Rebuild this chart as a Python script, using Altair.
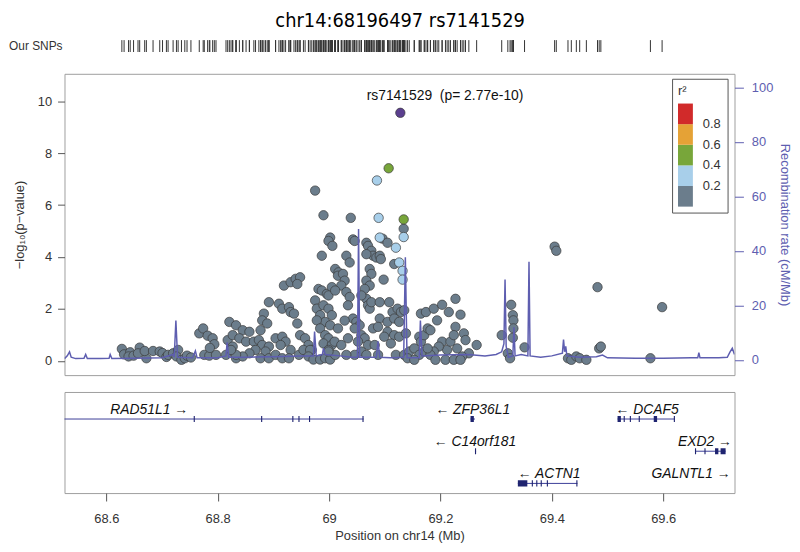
import altair as alt
import pandas as pd

# ---------------- data ----------------
# SNPs with r2 < 0.2 (grey): position (Mb) and -log10(p)
grey_pos = [68.628, 68.632, 68.643, 68.640, 68.649, 68.660, 68.657, 68.672, 68.669, 68.684,
            68.696, 68.701, 68.708, 68.711, 68.720, 68.729, 68.726, 68.735, 68.741, 68.745,
            68.752, 68.767, 68.774, 68.782, 68.791, 68.794, 68.776, 68.785, 68.797, 68.786,
            68.818, 68.827, 68.815, 68.833,
            68.975, 68.990, 69.002, 68.999, 69.006, 68.987, 69.011, 69.017, 68.919, 68.931,
            68.940, 68.948, 68.943, 68.981, 68.987, 68.996, 68.975, 68.978, 68.984, 68.990,
            68.999, 69.005, 68.993, 69.002, 68.892, 68.910, 68.916, 68.928, 68.931, 68.937,
            68.883, 68.880, 68.889, 68.877, 68.943, 68.948, 68.957, 68.963, 68.969, 68.904,
            68.916, 68.922, 68.913, 68.821, 68.833, 68.845, 68.857, 68.827, 68.839, 68.851,
            68.865, 68.874, 68.880, 68.892, 68.886, 68.868, 68.857, 68.845, 68.833, 68.824,
            68.877, 68.892, 68.904, 68.916, 68.931, 68.928, 68.946, 68.954, 68.966, 68.963,
            68.972, 68.984, 68.993, 69.002, 68.978, 68.984, 68.993, 68.999, 68.990, 69.005,
            69.010, 68.999,
            69.039, 69.134, 69.096, 69.105, 69.098, 69.117, 69.043, 69.046, 69.067, 69.070,
            69.076, 69.079, 69.067, 69.085, 69.091, 69.093, 69.031, 69.037, 69.073, 69.076,
            69.067, 69.073, 69.016, 69.025, 69.028, 69.022, 69.005, 69.031, 69.037, 69.034,
            68.999, 69.011, 69.064, 69.067, 69.070, 69.073, 69.058, 69.076, 69.091, 69.108,
            69.091, 69.105, 69.114, 69.123, 69.129, 69.135, 69.117, 69.126, 69.105, 69.117,
            69.126, 69.138, 69.043, 69.049, 69.055, 69.046, 69.058, 69.064, 69.052, 69.070,
            69.058, 69.046, 69.067, 69.082, 69.088, 69.011, 68.999, 69.022, 69.031, 69.034,
            69.079, 69.088, 69.099, 69.111, 69.120, 69.135, 69.016, 69.028,
            69.165, 69.174, 69.162, 69.144, 69.153, 69.162, 69.171, 69.165, 69.141, 69.153,
            69.171,
            69.188, 69.203, 69.215, 69.236, 69.194, 69.177, 69.182, 69.227, 69.242, 69.245,
            69.265, 69.251, 69.239, 69.230, 69.212, 69.203, 69.197, 69.188, 69.182, 69.177,
            69.191, 69.209, 69.224, 69.236, 69.218, 69.224, 69.227,
            69.310, 69.327, 69.330, 69.331, 69.331, 69.330, 69.321, 69.325, 69.351,
            69.405, 69.408, 69.482, 69.598, 69.485, 69.488, 69.429, 69.435, 69.444, 69.450,
            69.462, 69.577]
grey_logp = [0.46, 0.25, 0.33, 0.17, 0.20, 0.51, 0.29, 0.10, 0.38, 0.38,
             0.36, 0.30, 0.15, 0.23, 0.29, 0.42, 0.17, 0.04, 0.10, 0.20,
             0.13, 1.06, 1.25, 0.97, 0.87, 0.64, 0.23, 0.20, 0.23, 0.50,
             0.80, 0.55, 0.23, 0.10,
             6.56, 5.61, 4.75, 4.62, 4.43, 4.05, 3.54, 3.41, 2.90, 3.03,
             3.16, 3.22, 2.96, 2.77, 2.71, 2.58, 2.33, 2.01, 1.76, 2.14,
             2.01, 1.76, 1.50, 1.37, 2.26, 2.20, 2.01, 2.07, 1.88, 1.82,
             1.82, 1.56, 1.44, 1.18, 1.44, 0.99, 0.87, 0.61, 0.42, 0.87,
             0.93, 0.74, 0.61, 1.50, 1.37, 1.18, 1.12, 0.99, 0.87, 0.74,
             0.74, 0.80, 0.61, 0.55, 0.36, 0.42, 0.29, 0.17, 0.23, 0.42,
             0.10, 0.10, 0.23, 0.10, 0.42, 0.10, 0.23, 0.42, 0.42, 0.17,
             0.05, 0.05, 0.10, 0.05, 1.56, 1.25, 0.99, 0.87, 0.67, 0.61,
             0.74, 0.42,
             5.51, 5.09, 4.71, 4.55, 3.13, 3.73, 4.68, 4.62, 4.55, 4.43,
             4.24, 4.05, 4.11, 3.98, 4.05, 3.92, 4.05, 3.79, 3.54, 3.35,
             3.09, 2.90, 3.28, 3.35, 3.09, 2.90, 2.84, 2.65, 2.46, 2.14,
             2.52, 2.71, 2.77, 2.39, 2.14, 2.01, 2.52, 2.26, 2.26, 2.26,
             1.63, 1.50, 1.88, 2.01, 1.88, 1.95, 1.63, 1.50, 1.12, 0.99,
             0.93, 1.06, 1.63, 1.50, 1.37, 1.25, 0.99, 0.87, 0.74, 0.61,
             0.36, 0.23, 0.23, 0.61, 0.23, 0.23, 0.36, 0.61, 0.23, 0.87,
             1.25, 1.31, 0.93, 0.67, 0.23, 0.23, 1.25, 1.55,
             1.82, 1.88, 0.93, 0.36, 0.48, 0.23, 0.36, 0.74, 0.10, 0.04,
             0.99,
             2.01, 2.16, 1.88, 1.78, 1.56, 1.25, 1.18, 1.31, 1.06, 0.80,
             0.61, 0.29, 0.17, 0.48, 0.42, 0.74, 0.55, 0.36, 0.23, 0.48,
             0.04, 0.04, 0.04, 0.04, 0.74, 0.99, 2.39,
             0.99, 2.16, 1.76, 1.56, 1.25, 0.89, 0.29, 0.10, 0.52,
             4.40, 4.24, 2.84, 2.07, 0.48, 0.55, 0.10, 0.04, 0.17, 0.10,
             0.04, 0.10]

# SNPs with 0.2 <= r2 < 0.4 (light blue)
ltblue_pos = [69.086, 69.089, 69.134, 69.091, 69.120, 69.126, 69.132, 69.132]
ltblue_logp = [6.95, 5.51, 4.77, 4.75, 4.36, 3.79, 3.47, 3.13]

# SNPs with 0.4 <= r2 < 0.6 (green)
green_pos = [69.107, 69.134]
green_logp = [7.42, 5.45]

# representative r2 of each group
r2_grey, r2_ltblue, r2_green = 0.1, 0.3, 0.5

# lead SNP
lead_pos = [69.128]
lead_logp = [9.557]
lead_label = ["rs7141529\u00a0\u00a0(p= 2.77e-10)"]

# recombination rate (cM/Mb)
recomb_pos = [68.525, 68.530, 68.534, 68.537, 68.545, 68.560, 68.563, 68.566, 68.590, 68.605,
              68.607, 68.610, 68.650, 68.700, 68.720, 68.722, 68.725, 68.728, 68.755, 68.760,
              68.763, 68.800, 68.815, 68.817, 68.820, 68.850, 68.900, 68.950, 68.972, 68.974,
              68.977, 68.988, 68.990, 68.993, 69.020, 69.040, 69.051, 69.053, 69.055, 69.085,
              69.088, 69.091, 69.110, 69.134, 69.137, 69.140, 69.162, 69.164, 69.167, 69.200,
              69.250, 69.280, 69.300, 69.310, 69.314, 69.316, 69.318, 69.322, 69.330, 69.332,
              69.334, 69.345, 69.357, 69.359, 69.361, 69.380, 69.400, 69.419, 69.421, 69.423,
              69.425, 69.427, 69.450, 69.480, 69.491, 69.500, 69.550, 69.600, 69.650, 69.662,
              69.664, 69.666, 69.700, 69.715, 69.720, 69.724, 69.728]
recomb_rate = [0.5, 1.5, 3.0, 1.0, 0.5, 0.6, 2.0, 0.5, 0.5, 0.6,
               2.0, 0.5, 0.6, 0.8, 2.0, 1.0, 14.5, 1.0, 0.8, 3.3,
               0.8, 0.8, 1.5, 6.5, 1.0, 1.0, 1.2, 1.5, 1.5, 10.4,
               1.5, 2.0, 4.3, 2.0, 1.5, 1.0, 1.0, 48.1, 1.0, 1.0,
               6.8, 1.0, 0.8, 1.0, 37.7, 0.8, 0.8, 14.5, 1.5, 1.8,
               2.0, 1.5, 2.0, 3.0, 6.0, 29.5, 5.0, 1.0, 1.5, 12.0,
               1.5, 2.0, 1.5, 36.0, 1.5, 1.0, 1.5, 2.5, 7.5, 3.0,
               5.0, 1.5, 1.0, 1.2, 1.8, 0.8, 0.6, 0.6, 0.8, 0.8,
               2.7, 0.8, 0.8, 1.0, 3.0, 4.3, 2.0]

# genes
gene_names = ["RAD51L1", "ZFP36L1", "C14orf181", "ACTN1", "DCAF5", "EXD2", "GALNTL1"]
gene_start = [68.290, 69.254, 69.262, 69.339, 69.518, 69.657, 69.730]
gene_end = [69.062, 69.262, 69.264, 69.446, 69.621, 69.712, 69.800]
gene_strand = ["+", "-", "-", "-", "-", "+", "+"]
gene_row = [1, 1, 2, 3, 1, 2, 3]
gene_label_pos = [68.677, 69.258, 69.262, 69.395, 69.571, 69.675, 69.650]

# exons (row, start, end)
exon_row = [1, 1, 1, 1, 1, 1,
            1,
            2,
            3, 3, 3, 3, 3, 3,
            1, 1, 1, 1, 1, 1,
            2, 2, 2, 2]
exon_start = [68.757, 68.878, 68.934, 68.945, 68.964, 69.060,
              69.254,
              69.262,
              69.339, 69.364, 69.372, 69.380, 69.391, 69.444,
              69.518, 69.529, 69.540, 69.556, 69.583, 69.619,
              69.657, 69.674, 69.693, 69.703]
exon_end = [68.759, 68.880, 68.936, 68.947, 68.966, 69.062,
            69.260,
            69.264,
            69.356, 69.366, 69.374, 69.382, 69.393, 69.446,
            69.524, 69.531, 69.542, 69.558, 69.589, 69.621,
            69.659, 69.676, 69.699, 69.712]

r2_breaks = [0.2, 0.4, 0.6, 0.8]
r2_colors = ["#6B7D8C", "#A8CFEA", "#78A63A", "#E5A236", "#D12A2A"]
x_ticks = [68.6, 68.8, 69.0, 69.2, 69.4, 69.6]
left_ticks = [0, 2, 4, 6, 8, 10]
right_ticks = [0, 20, 40, 60, 80, 100]

# ---------------- tables ----------------
snps = pd.DataFrame({
    "pos": grey_pos + ltblue_pos + green_pos,
    "logp": grey_logp + ltblue_logp + green_logp,
    "r2": [r2_grey] * len(grey_pos) + [r2_ltblue] * len(ltblue_pos) + [r2_green] * len(green_pos),
})
rug_df = pd.DataFrame({"pos": grey_pos + ltblue_pos + green_pos + lead_pos})
lead = pd.DataFrame({"pos": lead_pos, "logp": lead_logp, "label": lead_label})
recomb = pd.DataFrame({"pos": recomb_pos, "rate": recomb_rate})
genes = pd.DataFrame({"name": gene_names, "start": gene_start, "end": gene_end,
                      "strand": gene_strand, "row": gene_row, "lpos": gene_label_pos})
genes["label"] = [n + " \u2192" if s == "+" else "\u2190 " + n for n, s in zip(gene_names, gene_strand)]
exons = pd.DataFrame({"row": exon_row, "start": exon_start, "end": exon_end})

FONT = "Liberation Sans"
TITLE_FONT = "DejaVu Sans Condensed, Liberation Sans Narrow, Liberation Sans"
RECOMB = "#5E5EB0"
TXT = "#333333"
W = 676

x_scale = alt.Scale(domain=[68.525, 69.728], nice=False, zero=False)
y_left = alt.Scale(domain=[-0.55, 11.06], nice=False, zero=False)
y_right = alt.Scale(domain=[-5.56, 105], nice=False, zero=False)
gene_y = alt.Scale(domain=[0, 3.14], nice=False, zero=False, reverse=True)

# ---------------- rug ----------------
rug = alt.Chart(rug_df).mark_rule(color="#333333", strokeWidth=1).encode(
    x=alt.X("pos:Q", scale=x_scale, axis=None),
    y=alt.value(0), y2=alt.value(12),
)
rug_txt = alt.Chart(pd.DataFrame({"t": ["Our SNPs"]})).mark_text(
    align="right", baseline="middle", fontSize=12, color=TXT, font=FONT
).encode(x=alt.value(-2), y=alt.value(6), text="t:N")
rug_chart = alt.layer(rug, rug_txt).properties(
    width=W, height=18, view=alt.ViewBackground(strokeOpacity=0))

# ---------------- main ----------------
left_axis = alt.Axis(values=left_ticks, title="\u2212log\u2081\u2080(p\u2212value)", grid=False,
                     domain=False, tickSize=7, tickColor="#555555", labelPadding=6,
                     labelFontSize=13, labelColor=TXT, titleFontSize=13,
                     titleFontWeight="normal", titleColor=TXT, titlePadding=11)
right_axis = alt.Axis(orient="right", values=right_ticks, title="Recombination rate (cM/Mb)",
                      grid=False, domain=False, tickSize=9, tickColor=RECOMB, labelPadding=8,
                      labelFontSize=13, labelColor=RECOMB, titleFontSize=13,
                      titleFontWeight="normal", titleColor=RECOMB, titlePadding=5)

x_main = alt.X("pos:Q", scale=x_scale, axis=None)
y_assoc = alt.Y("logp:Q", scale=y_left, axis=left_axis)

points = alt.Chart(snps).mark_circle(size=90, opacity=1, stroke="#3a3a3a", strokeWidth=0.7).encode(
    x=x_main,
    y=y_assoc,
    color=alt.Color("r2:Q",
                    scale=alt.Scale(type="threshold", domain=r2_breaks, range=r2_colors),
                    legend=alt.Legend(type="gradient", title="r\u00b2", orient="none",
                                      legendX=613, legendY=5, direction="vertical",
                                      gradientLength=104, gradientThickness=15,
                                      gradientStrokeWidth=0, fillColor="white",
                                      strokeColor="#555555", padding=6, labelOffset=10,
                                      labelFontSize=13, labelColor=TXT, titleFontSize=13,
                                      titleFontWeight="normal", titleColor=TXT,
                                      titlePadding=6, titleAnchor="start")),
)
lead_pt = alt.Chart(lead).mark_circle(size=90, opacity=1, color="#5B3F8F", stroke="#3a3a3a",
                                      strokeWidth=0.7).encode(x=x_main, y=y_assoc)
lead_txt = alt.Chart(lead).mark_text(align="left", baseline="middle", dx=-34, dy=-17,
                                     fontSize=14, color="#111111", font=FONT).encode(
    x=x_main, y=y_assoc, text="label:N")
recomb_line = alt.Chart(recomb).mark_line(color=RECOMB, strokeWidth=1.5, clip=True).encode(
    x=x_main,
    y=alt.Y("rate:Q", scale=y_right, axis=right_axis),
)
assoc = alt.layer(points, lead_pt, lead_txt)
main = alt.layer(assoc, recomb_line).resolve_scale(y="independent").properties(width=W, height=304)

# ---------------- genes ----------------
gene_axis = alt.Axis(values=x_ticks, format="~g", title="Position on chr14 (Mb)", grid=False,
                     domain=False, tickSize=8, tickColor="#555555", labelPadding=12,
                     labelFontSize=13, labelColor=TXT, titleFontSize=13,
                     titleFontWeight="normal", titleColor=TXT, titlePadding=4)
gene_lines = alt.Chart(genes).transform_calculate(gy="datum.row - 0.16").mark_rule(
    color="#3B3E98", strokeWidth=1, clip=True).encode(
    x=alt.X("start:Q", scale=x_scale, axis=gene_axis),
    x2="end:Q",
    y=alt.Y("gy:Q", scale=gene_y, axis=None),
)
exon_rects = alt.Chart(exons).transform_calculate(
    y1="datum.row - 0.255", y2="datum.row - 0.065").mark_rect(color="#1F2470", clip=True).encode(
    x=alt.X("start:Q", scale=x_scale, axis=gene_axis),
    x2="end:Q",
    y=alt.Y("y1:Q", scale=gene_y, axis=None),
    y2="y2:Q",
)
gene_txt = alt.Chart(genes).transform_calculate(ly="datum.row - 0.45").mark_text(
    baseline="middle", fontSize=14, fontStyle="italic", color="#111111", font=FONT).encode(
    x=alt.X("lpos:Q", scale=x_scale, axis=gene_axis),
    y=alt.Y("ly:Q", scale=gene_y, axis=None),
    text="label:N",
)
gene_chart = alt.layer(gene_lines, exon_rects, gene_txt).properties(width=W, height=102)

chart = alt.vconcat(rug_chart, main, gene_chart, spacing=15).resolve_scale(
    color="independent"
).properties(
    title=alt.TitleParams("chr14:68196497 rs7141529", fontSize=20, font=TITLE_FONT,
                          fontWeight="normal", color="#000000", anchor="middle", offset=9),
    padding=0,
).configure(font=FONT).configure_view(stroke="#9e9e9e", strokeWidth=1)

chart.save("out.html", embed_options={"renderer": "svg", "actions": False})
